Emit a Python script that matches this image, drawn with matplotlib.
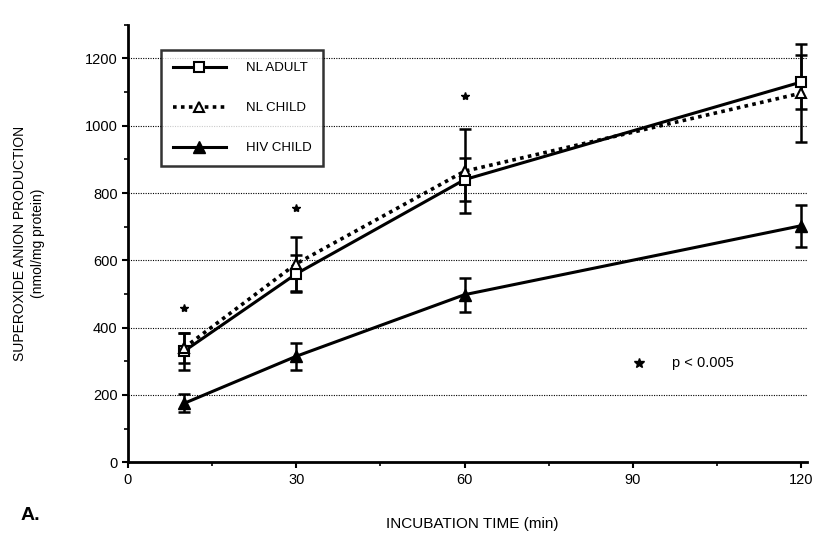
import numpy as np
import matplotlib.pyplot as plt

plt.rcParams['font.family'] = ['Liberation Sans', 'DejaVu Sans']

# data
time = [10, 30, 60, 120]
adult = [330, 560, 840, 1130]
adult_err = [55, 55, 65, 80]
child = [340, 590, 865, 1097]
child_err = [45, 80, 125, 145]
hiv = [175, 315, 498, 703]
hiv_err = [27, 40, 50, 63]

star_x = [10, 30, 60, 120]
star_y = [458, 755, 1088, 1323]

fig = plt.figure(figsize=(8.15, 5.4), dpi=100)
ax = fig.add_axes([0.157, 0.144, 0.833, 0.81])

for y in range(200, 1201, 200):
    ax.axhline(y, color='black', lw=0.8, ls=(0, (1, 1.2)), zorder=0)

eb = dict(fmt='none', ecolor='black', capsize=4, elinewidth=1.8, capthick=1.8, zorder=2)
ax.errorbar(time, adult, yerr=adult_err, **eb)
ax.errorbar(time, child, yerr=child_err, **eb)
ax.errorbar(time, hiv, yerr=hiv_err, **eb)

ax.plot(time, adult, color='black', lw=2.2, marker='s', ms=7, mfc='white',
        mec='black', mew=1.5, label='NL ADULT', zorder=3)
ax.plot(time, child, color='black', lw=2.6, ls=(0, (1, 1.2)), marker='^', ms=7,
        mfc='white', mec='black', mew=1.5, label='NL CHILD', zorder=3)
ax.plot(time, hiv, color='black', lw=2.2, marker='^', ms=8, mfc='black',
        mec='black', label='HIV CHILD', zorder=3)

ax.plot(star_x, star_y, ls='none', marker='*', ms=6, color='black')
ax.plot([91], [295], ls='none', marker='*', ms=7, color='black')
ax.text(97, 295, 'p < 0.005', fontsize=10.5, va='center')

ax.set_xlim(0, 121)
ax.set_ylim(0, 1295)
ax.set_xticks([0, 30, 60, 90, 120])
ax.set_xticks([15, 45, 75, 105], minor=True)
ax.set_yticks(range(0, 1201, 200))
ax.set_yticks(range(100, 1301, 200), minor=True)
ax.tick_params(axis='both', which='major', length=4, width=1.5, labelsize=10.5)
ax.tick_params(axis='both', which='minor', length=3, width=1.2)
ax.spines['top'].set_visible(False)
ax.spines['right'].set_visible(False)
ax.spines['left'].set_linewidth(2)
ax.spines['bottom'].set_linewidth(2)

leg = ax.legend(loc='upper left', bbox_to_anchor=(0.049, 0.942), frameon=True,
                fancybox=False, edgecolor='black', fontsize=9.5,
                handlelength=4, labelspacing=2.1, borderpad=0.9,
                handletextpad=1.5, borderaxespad=0)
leg.get_frame().set_linewidth(1.8)

fig.text(0.025, 0.55, 'SUPEROXIDE ANION PRODUCTION', rotation=90,
         ha='center', va='center', fontsize=10)
fig.text(0.047, 0.55, '(nmol/mg protein)', rotation=90,
         ha='center', va='center', fontsize=10)
fig.text(0.58, 0.03, 'INCUBATION TIME (min)', ha='center', va='center', fontsize=11)
fig.text(0.025, 0.045, 'A.', fontsize=14, fontweight='bold', va='center')

plt.savefig('out.png')
